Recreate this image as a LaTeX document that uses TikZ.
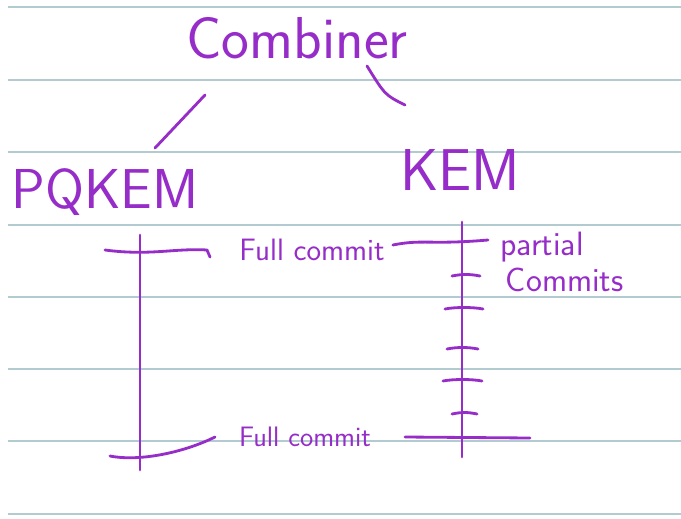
\documentclass[tikz,border=0pt]{standalone}
\usepackage{tikz}
\usetikzlibrary{calc}
\definecolor{ink}{RGB}{150,45,200}
\definecolor{rule}{RGB}{178,203,209}

\begin{document}
\begin{tikzpicture}[x=0.025cm, y=-0.025cm,
		pen/.style={line width=2pt, color=ink, line cap=round, line join=round},
		paperline/.style={line width=1.9pt, color=rule},
		word/.style={color=ink, font=\sffamily, inner sep=0pt}]
			%%%%% START %%%%%
			
			\useasboundingbox[fill=white] (0, 0) rectangle (681, 518);
			
			% lined paper
			\foreach \y in {7, 80, 152, 225, 297, 369, 441, 514}
				\draw[paperline] (8, \y) -- (681, \y);
			
			\node[word, font=\sffamily\fontsize{42}{42}\selectfont] (comb) at (297, 38) {Combiner};
			\node[word, font=\sffamily\fontsize{40}{40}\selectfont] (pqkem) at (105, 192) {PQKEM};
			\node[word, font=\sffamily\fontsize{42}{42}\selectfont] (kem) at (460, 170) {KEM};
			
			\draw[pen] ([shift={(-92, 57)}]comb.center) -- ([shift={(50, -44)}]pqkem.center);
			\draw[pen] ([shift={(70, 28)}]comb.center) .. controls ([shift={(88, 57)}]comb.center) .. ([shift={(-55, -65)}]kem.center);
			
			% PQKEM line
			\coordinate (pqtop) at (140, 235);
			\coordinate (pqbot) at (140, 470);
			\draw[pen] (pqtop) -- (pqbot);
			\draw[pen] (105, 250) .. controls (150, 256) and (175, 248) .. (207, 250) -- (210, 257);
			\draw[pen] (110, 456) .. controls (140, 462) and (185, 452) .. (215, 437);
			
			% KEM line
			\coordinate (kemtop) at (462, 222);
			\coordinate (kembot) at (462, 457);
			\draw[pen] (kemtop) -- (kembot);
			\foreach \y/\a/\b in {275/452/480, 308/445/483, 348/447/478, 380/443/482, 413/452/477}
				\draw[pen] (\a, \y+1) .. controls (\a+10, \y-1) and (\b-10, \y-1) .. (\b, \y+1);
			
			\node[word, font=\sffamily\fontsize{22}{22}\selectfont] (fulltop) at (312, 250) {Full commit};
			\node[word, font=\sffamily\fontsize{20}{20}\selectfont] (fullbot) at (305, 437) {Full commit};
			\node[word, font=\sffamily\fontsize{24}{26}\selectfont, align=left, anchor=west] (partial) at (500, 262) {partial\\\hspace*{4pt}Commits};
			
			\draw[pen] (fulltop.east) ++(8, -5) .. controls ++(30, -6) and (430, 245) .. (488, 240);
			\draw[pen] ([xshift=24pt]fullbot.east) -- (530, 438);
			
			%%%%% END %%%%%
		\end{tikzpicture}
\end{document}
